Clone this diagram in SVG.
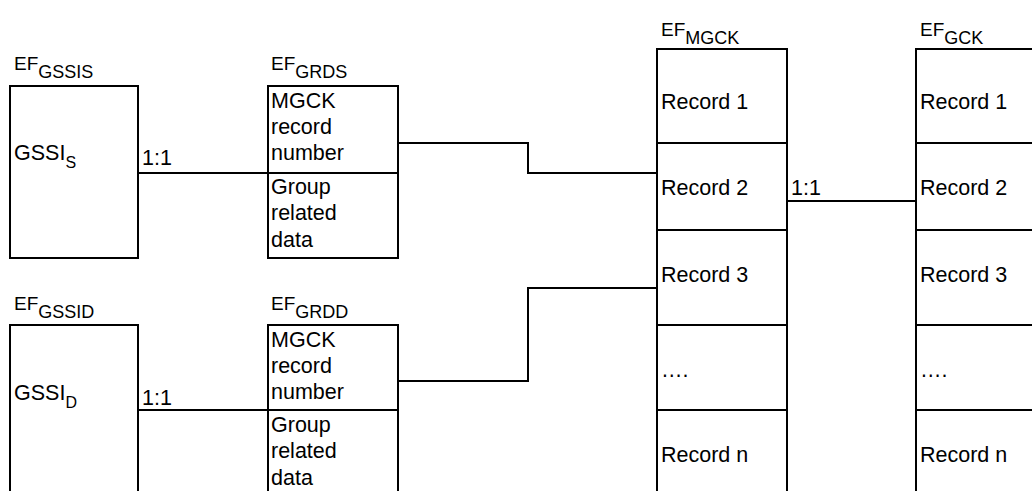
<svg xmlns="http://www.w3.org/2000/svg" width="1032" height="491" viewBox="0 0 1032 491">
<style>
.box{fill:none;stroke:#000;stroke-width:2}
.ln{fill:none;stroke:#000;stroke-width:2}
text{font-family:"Liberation Sans",Arial,sans-serif;fill:#000}
.t{font-size:21.5px}
.ef{font-size:19px}
.sub{font-size:18px}
.sub2{font-size:16px}
</style>
<rect width="1032" height="491" fill="#fff"/>
<g id="connectors">
<path class="ln" d="M138,173 H268"/>
<path class="ln" d="M138,410 H268"/>
<path class="ln" d="M398,143 H528 V173 H657"/>
<path class="ln" d="M398,381 H528 V288 H657"/>
<path class="ln" d="M787,201 H916"/>
<text class="t" x="142" y="165">1:1</text>
<text class="t" x="142" y="405">1:1</text>
<text class="t" x="791" y="195">1:1</text>
</g>
<g id="ef-gssis">
<text x="14" y="70"><tspan class="ef">EF</tspan><tspan class="sub" dy="8">GSSIS</tspan></text>
<rect class="box" x="10" y="86" width="128" height="172"/>
<text x="14" y="160"><tspan class="t">GSSI</tspan><tspan class="sub2" dy="8">S</tspan></text>
</g>
<g id="ef-grds">
<text x="271" y="70"><tspan class="ef">EF</tspan><tspan class="sub" dy="8">GRDS</tspan></text>
<rect class="box" x="268" y="86" width="130" height="172"/>
<path class="ln" d="M268,173 H398"/>
<text class="t" x="271" y="108">MGCK</text>
<text class="t" x="271" y="134">record</text>
<text class="t" x="271" y="160">number</text>
<text class="t" x="271" y="194">Group</text>
<text class="t" x="271" y="220">related</text>
<text class="t" x="271" y="247">data</text>
</g>
<g id="ef-gssid">
<text x="14" y="310"><tspan class="ef">EF</tspan><tspan class="sub" dy="8">GSSID</tspan></text>
<rect class="box" x="10" y="325" width="128" height="200"/>
<text x="14" y="400"><tspan class="t">GSSI</tspan><tspan class="sub2" dy="8">D</tspan></text>
</g>
<g id="ef-grdd">
<text x="271" y="310"><tspan class="ef">EF</tspan><tspan class="sub" dy="8">GRDD</tspan></text>
<rect class="box" x="268" y="325" width="130" height="200"/>
<path class="ln" d="M268,410 H398"/>
<text class="t" x="271" y="347">MGCK</text>
<text class="t" x="271" y="373">record</text>
<text class="t" x="271" y="399">number</text>
<text class="t" x="271" y="432">Group</text>
<text class="t" x="271" y="458">related</text>
<text class="t" x="271" y="485">data</text>
</g>
<g id="ef-mgck">
<text x="661" y="36"><tspan class="ef">EF</tspan><tspan class="sub" dy="8">MGCK</tspan></text>
<rect class="box" x="657" y="49" width="130" height="480"/>
<path class="ln" d="M657,143 H787 M657,230 H787 M657,325 H787 M657,410 H787"/>
<text class="t" x="661" y="109">Record 1</text>
<text class="t" x="661" y="195">Record 2</text>
<text class="t" x="661" y="282">Record 3</text>
<text class="t" x="661" y="377">….</text>
<text class="t" x="661" y="462">Record n</text>
</g>
<g id="ef-gck">
<text x="920" y="36"><tspan class="ef">EF</tspan><tspan class="sub" dy="8">GCK</tspan></text>
<rect class="box" x="916" y="49" width="130" height="480"/>
<path class="ln" d="M916,143 H1046 M916,230 H1046 M916,325 H1046 M916,410 H1046"/>
<text class="t" x="920" y="109">Record 1</text>
<text class="t" x="920" y="195">Record 2</text>
<text class="t" x="920" y="282">Record 3</text>
<text class="t" x="920" y="377">….</text>
<text class="t" x="920" y="462">Record n</text>
</g>
</svg>
